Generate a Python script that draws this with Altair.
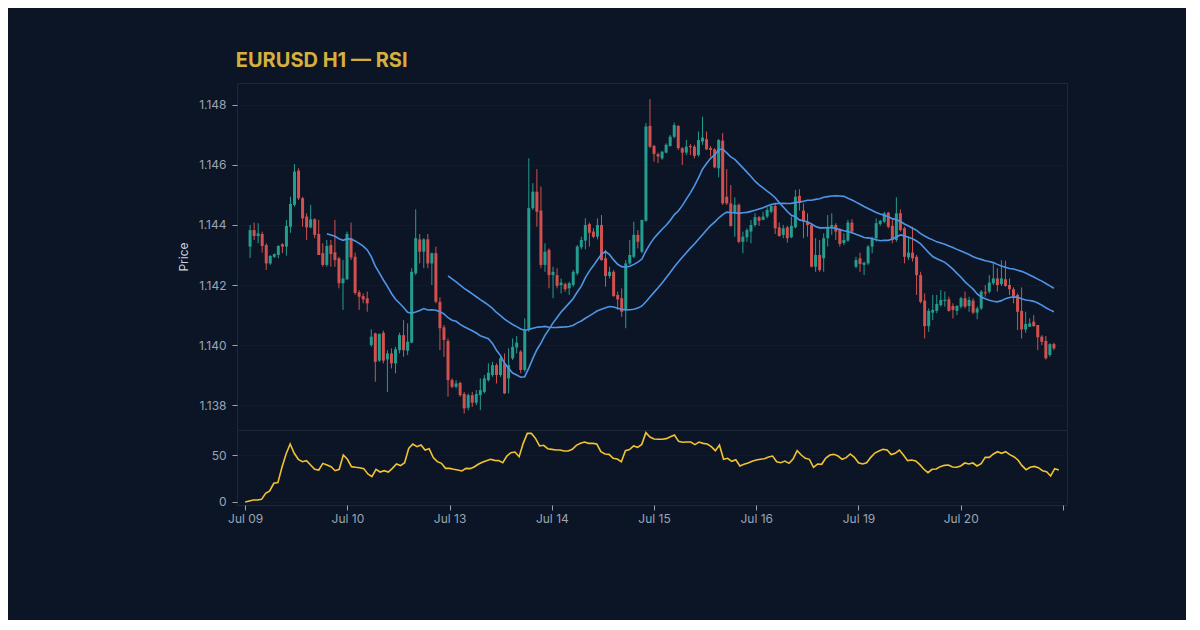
import altair as alt
import pandas as pd

# hourly candles (price in EURUSD)
OPEN = [
    1.14328, 1.14383, 1.14363, 1.14370, 1.14333, 1.14272, 1.14294, 1.14300, 1.14336, 1.14328,
    1.14394, 1.14467, 1.14581, 1.14489, 1.14428, 1.14392, 1.14419, 1.14370, 1.14306, 1.14267,
    1.14333, 1.14309, 1.14289, 1.14206, 1.14219, 1.14356, 1.14294, 1.14176, 1.14163, 1.14156,
    1.14000, 1.14039, 1.13948, 1.14041, 1.13952, 1.13972, 1.13939, 1.13983, 1.14033, 1.13981,
    1.14008, 1.14239, 1.14352, 1.14311, 1.14352, 1.14272, 1.14306, 1.14144, 1.14059, 1.14014,
    1.13883, 1.13861, 1.13874, 1.13837, 1.13791, 1.13833, 1.13808, 1.13833, 1.13844, 1.13883,
    1.13900, 1.13933, 1.13900, 1.13939, 1.13889, 1.13956, 1.13992, 1.13978, 1.13917, 1.14050,
    1.14456, 1.14511, 1.14448, 1.14267, 1.14317, 1.14233, 1.14233, 1.14200, 1.14203, 1.14189,
    1.14200, 1.14239, 1.14326, 1.14348, 1.14403, 1.14378, 1.14361, 1.14400, 1.14289, 1.14230,
    1.14244, 1.14167, 1.14156, 1.14117, 1.14272, 1.14294, 1.14367, 1.14311, 1.14414, 1.14730,
    1.14663, 1.14636, 1.14622, 1.14641, 1.14663, 1.14694, 1.14730, 1.14656, 1.14641, 1.14663,
    1.14661, 1.14633, 1.14678, 1.14686, 1.14656, 1.14652, 1.14589, 1.14681, 1.14494, 1.14472,
    1.14439, 1.14467, 1.14344, 1.14359, 1.14378, 1.14400, 1.14426, 1.14417, 1.14428, 1.14444,
    1.14463, 1.14392, 1.14367, 1.14392, 1.14359, 1.14392, 1.14497, 1.14448, 1.14411, 1.14400,
    1.14261, 1.14300, 1.14289, 1.14356, 1.14392, 1.14400, 1.14383, 1.14340, 1.14348, 1.14408,
    1.14261, 1.14289, 1.14267, 1.14272, 1.14328, 1.14356, 1.14403, 1.14411, 1.14441, 1.14397,
    1.14350, 1.14439, 1.14389, 1.14292, 1.14308, 1.14294, 1.14233, 1.14148, 1.14063, 1.14108,
    1.14114, 1.14133, 1.14147, 1.14152, 1.14130, 1.14114, 1.14128, 1.14156, 1.14130, 1.14148,
    1.14108, 1.14122, 1.14176, 1.14178, 1.14206, 1.14222, 1.14203, 1.14219, 1.14200, 1.14186,
    1.14167, 1.14114, 1.14052, 1.14061, 1.14078, 1.14067, 1.14028, 1.14014, 1.13967, 1.14003,
]
HIGH = [
    1.14400, 1.14408, 1.14406, 1.14378, 1.14339, 1.14300, 1.14305, 1.14333, 1.14339, 1.14417,
    1.14494, 1.14603, 1.14589, 1.14494, 1.14439, 1.14467, 1.14422, 1.14417, 1.14339, 1.14350,
    1.14350, 1.14417, 1.14294, 1.14283, 1.14378, 1.14408, 1.14308, 1.14183, 1.14172, 1.14178,
    1.14052, 1.14041, 1.14039, 1.14048, 1.13983, 1.13989, 1.13994, 1.14041, 1.14083, 1.14072,
    1.14256, 1.14452, 1.14370, 1.14356, 1.14370, 1.14308, 1.14328, 1.14159, 1.14067, 1.14022,
    1.13889, 1.13883, 1.13878, 1.13844, 1.13839, 1.13844, 1.13850, 1.13889, 1.13900, 1.13939,
    1.13944, 1.13939, 1.13961, 1.13972, 1.13989, 1.14022, 1.14030, 1.13983, 1.14089, 1.14622,
    1.14539, 1.14586, 1.14528, 1.14339, 1.14322, 1.14261, 1.14256, 1.14222, 1.14208, 1.14211,
    1.14250, 1.14333, 1.14361, 1.14422, 1.14408, 1.14389, 1.14422, 1.14433, 1.14317, 1.14261,
    1.14250, 1.14178, 1.14189, 1.14283, 1.14350, 1.14411, 1.14383, 1.14417, 1.14739, 1.14819,
    1.14667, 1.14641, 1.14647, 1.14672, 1.14700, 1.14741, 1.14733, 1.14659, 1.14683, 1.14670,
    1.14667, 1.14711, 1.14761, 1.14711, 1.14663, 1.14656, 1.14686, 1.14706, 1.14586, 1.14533,
    1.14492, 1.14472, 1.14378, 1.14389, 1.14417, 1.14439, 1.14430, 1.14444, 1.14459, 1.14467,
    1.14472, 1.14408, 1.14400, 1.14397, 1.14428, 1.14517, 1.14519, 1.14472, 1.14439, 1.14406,
    1.14356, 1.14350, 1.14372, 1.14433, 1.14439, 1.14406, 1.14389, 1.14372, 1.14417, 1.14419,
    1.14294, 1.14308, 1.14278, 1.14333, 1.14361, 1.14422, 1.14417, 1.14444, 1.14444, 1.14422,
    1.14492, 1.14452, 1.14394, 1.14361, 1.14394, 1.14300, 1.14244, 1.14172, 1.14122, 1.14167,
    1.14167, 1.14183, 1.14178, 1.14161, 1.14139, 1.14133, 1.14161, 1.14178, 1.14161, 1.14156,
    1.14128, 1.14183, 1.14200, 1.14233, 1.14272, 1.14256, 1.14283, 1.14281, 1.14222, 1.14192,
    1.14172, 1.14192, 1.14111, 1.14089, 1.14100, 1.14067, 1.14033, 1.14030, 1.14006, 1.14008,
]
LOW = [
    1.14290, 1.14350, 1.14339, 1.14308, 1.14250, 1.14267, 1.14290, 1.14289, 1.14306, 1.14298,
    1.14374, 1.14461, 1.14483, 1.14394, 1.14350, 1.14389, 1.14356, 1.14300, 1.14261, 1.14261,
    1.14261, 1.14261, 1.14189, 1.14117, 1.14217, 1.14283, 1.14167, 1.14117, 1.14139, 1.14111,
    1.13994, 1.13878, 1.13944, 1.13939, 1.13844, 1.13922, 1.13906, 1.13972, 1.13961, 1.13967,
    1.14006, 1.14233, 1.14272, 1.14256, 1.14256, 1.14200, 1.14139, 1.13983, 1.13961, 1.13828,
    1.13856, 1.13856, 1.13828, 1.13772, 1.13783, 1.13794, 1.13800, 1.13783, 1.13839, 1.13878,
    1.13894, 1.13872, 1.13894, 1.13837, 1.13839, 1.13950, 1.13972, 1.13906, 1.13911, 1.14044,
    1.14450, 1.14394, 1.14256, 1.14244, 1.14189, 1.14156, 1.14189, 1.14172, 1.14178, 1.14167,
    1.14194, 1.14233, 1.14319, 1.14319, 1.14328, 1.14356, 1.14352, 1.14281, 1.14194, 1.14222,
    1.14161, 1.14117, 1.14094, 1.14056, 1.14267, 1.14289, 1.14322, 1.14306, 1.14411, 1.14656,
    1.14611, 1.14606, 1.14617, 1.14639, 1.14661, 1.14689, 1.14650, 1.14600, 1.14633, 1.14633,
    1.14622, 1.14628, 1.14667, 1.14650, 1.14628, 1.14589, 1.14559, 1.14467, 1.14467, 1.14394,
    1.14361, 1.14339, 1.14306, 1.14344, 1.14339, 1.14394, 1.14397, 1.14417, 1.14422, 1.14439,
    1.14370, 1.14361, 1.14356, 1.14341, 1.14356, 1.14389, 1.14448, 1.14356, 1.14361, 1.14259,
    1.14244, 1.14244, 1.14244, 1.14328, 1.14367, 1.14350, 1.14328, 1.14333, 1.14344, 1.14372,
    1.14256, 1.14244, 1.14233, 1.14267, 1.14306, 1.14344, 1.14397, 1.14406, 1.14389, 1.14339,
    1.14344, 1.14378, 1.14272, 1.14283, 1.14278, 1.14167, 1.14139, 1.14022, 1.14044, 1.14083,
    1.14106, 1.14128, 1.14128, 1.14111, 1.14089, 1.14100, 1.14122, 1.14122, 1.14111, 1.14103,
    1.14086, 1.14117, 1.14161, 1.14172, 1.14200, 1.14178, 1.14197, 1.14194, 1.14167, 1.14139,
    1.14050, 1.14022, 1.14041, 1.14060, 1.14061, 1.13983, 1.14000, 1.13952, 1.13961, 1.13983,
]
CLOSE = [
    1.14383, 1.14363, 1.14372, 1.14330, 1.14272, 1.14297, 1.14303, 1.14330, 1.14328, 1.14397,
    1.14470, 1.14578, 1.14489, 1.14422, 1.14392, 1.14419, 1.14367, 1.14300, 1.14267, 1.14330,
    1.14303, 1.14283, 1.14206, 1.14222, 1.14370, 1.14292, 1.14174, 1.14161, 1.14152, 1.14139,
    1.14028, 1.13944, 1.14037, 1.13948, 1.13972, 1.13939, 1.13986, 1.14033, 1.13983, 1.14011,
    1.14244, 1.14356, 1.14311, 1.14352, 1.14272, 1.14306, 1.14144, 1.14056, 1.14017, 1.13883,
    1.13861, 1.13872, 1.13833, 1.13789, 1.13833, 1.13808, 1.13837, 1.13850, 1.13889, 1.13908,
    1.13933, 1.13900, 1.13956, 1.13839, 1.13933, 1.13994, 1.14008, 1.13917, 1.14050, 1.14456,
    1.14511, 1.14444, 1.14267, 1.14311, 1.14233, 1.14244, 1.14197, 1.14208, 1.14186, 1.14206,
    1.14244, 1.14328, 1.14350, 1.14400, 1.14374, 1.14361, 1.14400, 1.14283, 1.14230, 1.14244,
    1.14163, 1.14152, 1.14111, 1.14272, 1.14300, 1.14367, 1.14344, 1.14417, 1.14728, 1.14661,
    1.14637, 1.14628, 1.14644, 1.14667, 1.14694, 1.14733, 1.14656, 1.14641, 1.14661, 1.14659,
    1.14630, 1.14683, 1.14691, 1.14652, 1.14650, 1.14592, 1.14683, 1.14472, 1.14472, 1.14397,
    1.14467, 1.14344, 1.14361, 1.14383, 1.14400, 1.14426, 1.14414, 1.14428, 1.14450, 1.14463,
    1.14389, 1.14363, 1.14389, 1.14356, 1.14397, 1.14494, 1.14474, 1.14411, 1.14400, 1.14261,
    1.14300, 1.14250, 1.14356, 1.14394, 1.14400, 1.14378, 1.14337, 1.14350, 1.14408, 1.14378,
    1.14283, 1.14270, 1.14274, 1.14328, 1.14356, 1.14406, 1.14414, 1.14439, 1.14394, 1.14350,
    1.14439, 1.14383, 1.14294, 1.14308, 1.14289, 1.14233, 1.14144, 1.14063, 1.14114, 1.14117,
    1.14137, 1.14150, 1.14151, 1.14114, 1.14117, 1.14130, 1.14156, 1.14128, 1.14150, 1.14108,
    1.14122, 1.14178, 1.14172, 1.14208, 1.14222, 1.14200, 1.14222, 1.14197, 1.14186, 1.14163,
    1.14111, 1.14052, 1.14070, 1.14072, 1.14063, 1.14026, 1.14011, 1.13956, 1.14003, 1.13989,
]
RSI = [
    0.0, 1.0, 2.1, 2.1, 2.8, 9.2, 11.7, 19.9, 20.6, 36.9,
    51.0, 61.7, 51.8, 45.4, 42.9, 44.0, 39.4, 34.8, 34.0, 41.1,
    39.4, 37.6, 33.3, 34.8, 50.0, 45.4, 37.6, 36.9, 36.5, 35.5,
    29.8, 27.0, 34.8, 31.9, 33.3, 31.9, 35.8, 40.4, 38.7, 41.8,
    57.1, 61.7, 58.9, 60.6, 55.3, 56.7, 47.2, 42.9, 41.1, 35.8,
    35.8, 34.8, 34.0, 33.0, 35.8, 35.5, 37.2, 40.1, 42.2, 44.0,
    45.4, 44.3, 44.0, 41.8, 48.9, 52.5, 53.2, 48.2, 62.4, 73.0,
    73.0, 67.7, 59.6, 60.3, 56.7, 56.0, 55.3, 55.3, 54.3, 54.3,
    56.0, 60.3, 62.4, 63.8, 62.4, 62.4, 61.7, 53.5, 51.1, 50.7,
    46.5, 45.7, 42.9, 54.6, 55.8, 59.6, 58.2, 61.3, 73.8, 69.1,
    67.0, 66.7, 66.7, 67.4, 69.5, 71.3, 64.5, 63.5, 63.8, 63.8,
    61.0, 63.8, 62.4, 61.7, 58.9, 54.6, 60.6, 45.4, 46.5, 43.3,
    45.0, 38.3, 40.1, 41.5, 43.3, 44.7, 45.4, 46.1, 47.9, 48.9,
    42.9, 41.8, 43.6, 41.1, 45.7, 54.6, 50.0, 46.5, 45.4, 36.9,
    40.4, 40.1, 46.8, 50.0, 50.7, 48.9, 45.4, 47.2, 51.1, 47.5,
    41.8, 40.4, 41.8, 47.5, 52.1, 54.3, 56.0, 55.3, 50.4, 51.8,
    55.3, 50.0, 44.0, 44.7, 43.6, 39.7, 34.8, 31.2, 34.8, 35.1,
    37.6, 39.0, 39.4, 37.2, 36.9, 38.3, 41.5, 40.4, 41.5, 38.3,
    40.8, 47.5, 47.5, 51.1, 53.5, 51.8, 53.5, 50.4, 48.2, 44.7,
    38.7, 34.4, 36.9, 37.9, 36.5, 33.3, 32.3, 27.7, 35.5, 34.0,
]
TICK_INDEX = [0, 25, 50, 75, 100, 125, 150, 175, 200]
TICK_LABELS = ["Jul 09", "Jul 10", "Jul 13", "Jul 14", "Jul 15", "Jul 16", "Jul 19", "Jul 20", ""]

BG = "#0b1526"
FONT = "Inter"
UP, DOWN = "#249d8f", "#d2514f"
MA_COLOR = "#4f95e6"
RSI_COLOR = "#f2c230"
LABEL_COLOR = "#9aa5b4"

df = pd.DataFrame({
    "idx": list(range(len(CLOSE))),
    "open": OPEN, "high": HIGH, "low": LOW, "close": CLOSE, "rsi": RSI,
})
df["dir"] = ["up" if c >= o else "down" for o, c in zip(OPEN, CLOSE)]

label_expr = " : ".join(
    f"datum.value == {i} ? '{t}'" for i, t in zip(TICK_INDEX, TICK_LABELS)
) + " : ''"

x_scale = alt.Scale(domain=[-2, 201], nice=False, zero=False)
price_scale = alt.Scale(domain=[1.13717, 1.14873], nice=False, zero=False)
color = alt.Color("dir:N", scale=alt.Scale(domain=["up", "down"], range=[UP, DOWN]), legend=None)

base = alt.Chart(df)
x_price = alt.X("idx:Q", scale=x_scale, axis=None)

wicks = base.mark_rule(strokeWidth=1).encode(
    x=x_price,
    y=alt.Y("low:Q", scale=price_scale, title="Price",
            axis=alt.Axis(values=[1.138, 1.140, 1.142, 1.144, 1.146, 1.148], format=".3f",
                          titlePadding=8)),
    y2="high:Q",
    color=color,
)
bodies = base.mark_bar(size=3).encode(x=x_price, y="open:Q", y2="close:Q", color=color)


def moving_average(n):
    return (
        base.transform_window(ma="mean(close)", cnt="count()", frame=[-(n - 1), 0], sort=[{"field": "idx"}])
        .transform_filter(f"datum.cnt >= {n}")
        .mark_line(color=MA_COLOR, strokeWidth=1.6)
        .encode(x=x_price, y=alt.Y("ma:Q", scale=price_scale))
    )


price = alt.layer(wicks, bodies, moving_average(20), moving_average(50)).properties(width=830, height=347)

rsi = base.mark_line(color=RSI_COLOR, strokeWidth=1.6).encode(
    x=alt.X("idx:Q", scale=x_scale, title=None,
            axis=alt.Axis(values=TICK_INDEX, labelExpr=label_expr, grid=False, labelPadding=3)),
    y=alt.Y("rsi:Q", scale=alt.Scale(domain=[-3.2, 76.6], nice=False, zero=False), title=None,
            axis=alt.Axis(values=[0, 50])),
).properties(width=830, height=75)

chart = (
    alt.vconcat(price, rsi, spacing=0, bounds="flush")
    .properties(
        title=alt.TitleParams("EURUSD H1 — RSI", anchor="start", color="#d6b03f",
                              fontSize=20, fontWeight="bold", font=FONT, offset=12, dx=59),
        background=BG,
        padding={"left": 168, "top": 42, "right": 118, "bottom": 95},
    )
    .configure_view(stroke="#1d2839", fill=BG)
    .configure_axis(
        labelColor=LABEL_COLOR, labelFont=FONT, labelFontSize=12, labelPadding=6,
        titleColor="#c8d0db", titleFont=FONT, titleFontSize=12, titleFontWeight="normal",
        tickColor=LABEL_COLOR, tickSize=5, domain=False,
        gridColor="#0f1a2d", gridWidth=1,
    )
)

chart.save("out.html", embed_options={"renderer": "svg", "actions": False})
